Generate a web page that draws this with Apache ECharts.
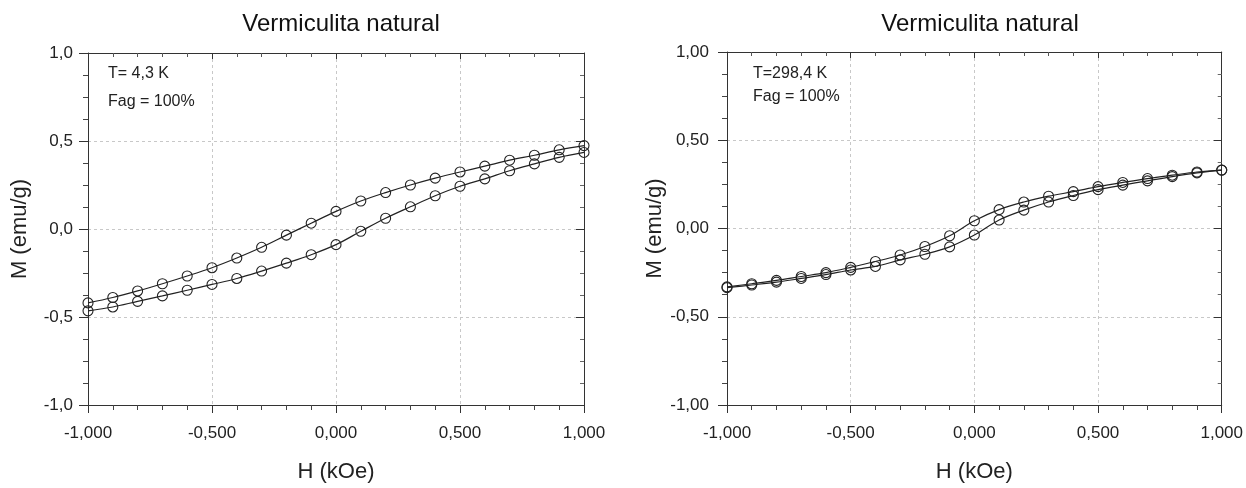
<!DOCTYPE html>
<html>
<head>
<meta charset="utf-8">
<script src="https://cdn.jsdelivr.net/npm/echarts@6/dist/echarts.min.js"></script>
<style>
html,body{margin:0;padding:0;background:#fff;}
#c{width:1246px;height:488px;}
</style>
</head>
<body>
<div id="c"></div>
<script>
// ---- data ----
const H = [-1.0,-0.9,-0.8,-0.7,-0.6,-0.5,-0.4,-0.3,-0.2,-0.1,0.0,0.1,0.2,0.3,0.4,0.5,0.6,0.7,0.8,0.9,1.0];
// T = 4,3 K
const leftUpper = [-0.42,-0.389,-0.352,-0.311,-0.267,-0.22,-0.165,-0.104,-0.035,0.033,0.1,0.159,0.207,0.25,0.289,0.324,0.357,0.391,0.419,0.45,0.474];
const leftLower = [-0.465,-0.443,-0.411,-0.38,-0.348,-0.315,-0.281,-0.239,-0.194,-0.146,-0.089,-0.013,0.061,0.126,0.189,0.243,0.285,0.331,0.37,0.407,0.435];
// T = 298,4 K
const rightUpper = [-0.331,-0.313,-0.294,-0.272,-0.25,-0.22,-0.187,-0.15,-0.102,-0.041,0.044,0.107,0.15,0.183,0.209,0.237,0.261,0.283,0.302,0.32,0.331];
const rightLower = [-0.335,-0.32,-0.304,-0.283,-0.261,-0.235,-0.215,-0.178,-0.146,-0.104,-0.037,0.048,0.104,0.15,0.187,0.22,0.246,0.27,0.294,0.315,0.331];

const xTickLabels = ['-1,000','-0,500','0,000','0,500','1,000'];
const yTickLabelsLeft = ['-1,0','-0,5','0,0','0,5','1,0'];
const yTickLabelsRight = ['-1,00','-0,50','0,00','0,50','1,00'];

const titleText = 'Vermiculita natural';
const xName = 'H (kOe)';
const yName = 'M (emu/g)';
const annLeft = ['T= 4,3 K','Fag = 100%'];
const annRight = ['T=298,4 K','Fag = 100%'];

// ---- helpers ----
const FONT = '"Liberation Sans", Arial, sans-serif';
const INK = '#222';
function lookup(labels, min, step){
  return function(v){ const i = Math.round((v - min)/step); return labels[i] !== undefined ? labels[i] : ''; };
}
function pairs(xs, ys){ return xs.map((x,i)=>[x, ys[i]]); }

function mainX(grid){
  return {
    type:'value', gridIndex:grid, min:-1, max:1, interval:0.5, position:'bottom',
    name:xName, nameLocation:'middle', nameGap:56,
    nameTextStyle:{fontFamily:FONT,fontSize:22,color:INK},
    axisLine:{show:true,onZero:false,lineStyle:{color:'#333',width:1}},
    axisTick:{show:true,inside:false,length:8,lineStyle:{color:'#333'}},
    minorTick:{show:true,splitNumber:5,length:5,lineStyle:{color:'#444'}},
    axisLabel:{show:true,margin:20,fontFamily:FONT,fontSize:17,color:INK,
      formatter:lookup(xTickLabels,-1,0.5)},
    splitLine:{show:true,lineStyle:{color:'#c8c8c8',type:[3,3],width:1}}
  };
}
function topX(grid){
  return {
    type:'value', gridIndex:grid, min:-1, max:1, interval:0.5, position:'top',
    axisLine:{show:true,onZero:false,lineStyle:{color:'#333',width:1}},
    axisTick:{show:true,inside:true,length:6,lineStyle:{color:'#333'}},
    minorTick:{show:true,splitNumber:5,length:4,lineStyle:{color:'#555'}},
    axisLabel:{show:false}, splitLine:{show:false}
  };
}
function mainY(grid, labels, gap, margin){
  return {
    type:'value', gridIndex:grid, min:-1, max:1, interval:0.5, position:'left',
    name:yName, nameLocation:'middle', nameGap:gap, nameRotate:90,
    nameTextStyle:{fontFamily:FONT,fontSize:22,color:INK},
    axisLine:{show:true,onZero:false,lineStyle:{color:'#333',width:1}},
    axisTick:{show:true,inside:false,length:9,lineStyle:{color:'#333'}},
    minorTick:{show:true,splitNumber:4,length:5,lineStyle:{color:'#444'}},
    axisLabel:{show:true,margin:margin,fontFamily:FONT,fontSize:17,color:INK,
      formatter:lookup(labels,-1,0.5)},
    splitLine:{show:true,lineStyle:{color:'#c8c8c8',type:[3,3],width:1}}
  };
}
function rightY(grid){
  return {
    type:'value', gridIndex:grid, min:-1, max:1, interval:0.5, position:'right',
    axisLine:{show:true,onZero:false,lineStyle:{color:'#333',width:1}},
    axisTick:{show:true,inside:true,length:8,lineStyle:{color:'#333'}},
    minorTick:{show:true,splitNumber:4,length:4,lineStyle:{color:'#666'}},
    axisLabel:{show:false}, splitLine:{show:false}
  };
}
function loop(xIdx, yIdx, ys){
  return {
    type:'line', xAxisIndex:xIdx, yAxisIndex:yIdx, data:pairs(H, ys),
    smooth:0.35, clip:false, symbol:'circle', symbolSize:10,
    lineStyle:{color:'#222',width:1.2},
    itemStyle:{color:'rgba(255,255,255,0)',borderColor:'#222',borderWidth:1.1},
    emphasis:{disabled:true}, animation:false, z:3
  };
}
function ann(x, y, text){
  return {type:'text', left:x, top:y, style:{text:text, fontFamily:FONT, fontSize:16, fill:INK}};
}

const chart = echarts.init(document.getElementById('c'), null, {renderer:'canvas'});
chart.setOption({
  backgroundColor:'#ffffff',
  animation:false,
  title:[
    {text:titleText, left:336, top:7, textAlign:'center', textStyle:{fontFamily:FONT,fontSize:24,fontWeight:'normal',color:'#111'}},
    {text:titleText, left:975, top:7, textAlign:'center', textStyle:{fontFamily:FONT,fontSize:24,fontWeight:'normal',color:'#111'}}
  ],
  grid:[
    {left:88, top:53, width:496, height:360, containLabel:false},
    {left:727, top:52, width:496, height:360, containLabel:false}
  ],
  xAxis:[mainX(0), topX(0), mainX(1), topX(1)],
  yAxis:[mainY(0, yTickLabelsLeft, 57, 15), rightY(0), mainY(1, yTickLabelsRight, 61, 18), rightY(1)],
  series:[
    loop(0,0,leftUpper), loop(0,0,leftLower),
    loop(2,2,rightUpper), loop(2,2,rightLower)
  ],
  graphic:[
    ann(108, 66, annLeft[0]), ann(108, 94, annLeft[1]),
    ann(753, 66, annRight[0]), ann(753, 89, annRight[1])
  ]
});
</script>
</body>
</html>
